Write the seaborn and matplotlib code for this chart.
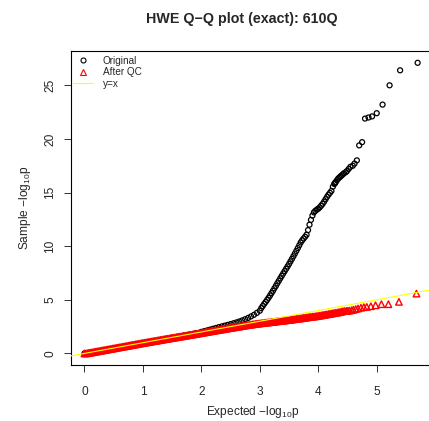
import matplotlib
matplotlib.use("Agg")
import matplotlib.pyplot as plt
import seaborn as sns
import pandas as pd
from matplotlib.lines import Line2D

# QQ data (expected vs sample -log10 p)
orig_expected = [0.0, 0.1, 0.2, 0.3, 0.4, 0.5, 0.6, 0.7, 0.8, 0.9, 1.0, 1.1, 1.2, 1.3, 1.4,
                 1.5, 1.6, 1.7, 1.8, 1.9, 2.0, 2.05, 2.10, 2.15, 2.20, 2.25, 2.30, 2.35, 2.40,
                 2.45, 2.50, 2.55, 2.60, 2.65, 2.70, 2.75, 2.80, 2.85, 2.90, 2.95, 3.00,
                 3.025, 3.050, 3.075, 3.100, 3.125, 3.150, 3.175, 3.200, 3.225, 3.250, 3.275,
                 3.300, 3.325, 3.350, 3.375, 3.400, 3.425, 3.450, 3.475, 3.500, 3.525, 3.550,
                 3.575, 3.600, 3.625, 3.650, 3.675, 3.700, 3.725, 3.750, 3.775, 3.800, 3.825,
                 3.850, 3.875, 3.900, 3.925, 3.950, 3.975, 4.000, 4.025, 4.050, 4.075, 4.100,
                 4.125, 4.150, 4.175, 4.200, 4.225, 4.250, 4.275,
                 4.28, 4.29, 4.30, 4.32, 4.34, 4.36, 4.38, 4.40, 4.42, 4.44, 4.47, 4.49, 4.52,
                 4.55, 4.59, 4.62, 4.66, 4.70, 4.75, 4.80, 4.86, 4.92, 5.00, 5.10, 5.22, 5.40, 5.70]
orig_observed = [0.0, 0.08, 0.18, 0.28, 0.38, 0.48, 0.58, 0.68, 0.78, 0.88, 0.98, 1.08, 1.17, 1.27, 1.37,
                 1.47, 1.57, 1.67, 1.77, 1.88, 2.01, 2.08, 2.15, 2.22, 2.30, 2.37, 2.45, 2.52, 2.59,
                 2.66, 2.73, 2.81, 2.89, 2.98, 3.08, 3.19, 3.31, 3.45, 3.60, 3.78, 3.98,
                 4.22, 4.42, 4.62, 4.80, 4.99, 5.19, 5.40, 5.62, 5.84, 6.07, 6.30,
                 6.54, 6.77, 7.00, 7.23, 7.45, 7.67, 7.89, 8.11, 8.34, 8.58, 8.82,
                 9.06, 9.31, 9.56, 9.82, 10.08, 10.35, 10.55, 10.72, 10.88, 11.07, 11.50,
                 12.00, 12.45, 12.85, 13.15, 13.30, 13.40, 13.50, 13.62, 13.78, 13.95, 14.15,
                 14.38, 14.60, 14.80, 14.97, 15.15, 15.55, 15.80,
                 15.85, 15.9, 16.0, 16.15, 16.3, 16.4, 16.5, 16.6, 16.7, 16.8, 16.9, 17.0, 17.2,
                 17.4, 17.5, 17.7, 18.0, 19.4, 19.7, 21.9, 22.0, 22.1, 22.4, 23.2, 25.0, 26.4, 27.1]

qc_expected = [
    0.000, 0.025, 0.050, 0.075, 0.100, 0.125, 0.150, 0.175, 0.200, 0.225, 0.250, 0.275,
    0.300, 0.325, 0.350, 0.375, 0.400, 0.425, 0.450, 0.475, 0.500, 0.525, 0.550, 0.575,
    0.600, 0.625, 0.650, 0.675, 0.700, 0.725, 0.750, 0.775, 0.800, 0.825, 0.850, 0.875,
    0.900, 0.925, 0.950, 0.975, 1.000, 1.025, 1.050, 1.075, 1.100, 1.125, 1.150, 1.175,
    1.200, 1.225, 1.250, 1.275, 1.300, 1.325, 1.350, 1.375, 1.400, 1.425, 1.450, 1.475,
    1.500, 1.525, 1.550, 1.575, 1.600, 1.625, 1.650, 1.675, 1.700, 1.725, 1.750, 1.775,
    1.800, 1.825, 1.850, 1.875, 1.900, 1.925, 1.950, 1.975, 2.000, 2.025, 2.050, 2.075,
    2.100, 2.125, 2.150, 2.175, 2.200, 2.225, 2.250, 2.275, 2.300, 2.325, 2.350, 2.375,
    2.400, 2.425, 2.450, 2.475, 2.500, 2.525, 2.550, 2.575, 2.600, 2.625, 2.650, 2.675,
    2.700, 2.725, 2.750, 2.775, 2.800, 2.825, 2.850, 2.875, 2.900, 2.925, 2.950, 2.975,
    3.000, 3.025, 3.050, 3.075, 3.100, 3.125, 3.150, 3.175, 3.200, 3.225, 3.250, 3.275,
    3.300, 3.325, 3.350, 3.375, 3.400, 3.425, 3.450, 3.475, 3.500, 3.525, 3.550, 3.575,
    3.600, 3.625, 3.650, 3.675, 3.700, 3.725, 3.750, 3.775, 3.800, 3.825, 3.850, 3.875,
    3.900, 3.925, 3.950, 3.975, 4.000, 4.025, 4.050, 4.075, 4.100, 4.125, 4.150, 4.175,
    4.200, 4.225, 4.250, 4.275, 4.300, 4.325, 4.350, 4.375, 4.400,
    4.42, 4.45, 4.48, 4.50, 4.53, 4.57, 4.60, 4.64, 4.68, 4.73, 4.78, 4.83, 4.90,
    4.98, 5.08, 5.20, 5.38, 5.68]
qc_observed = [
    0.00, 0.00, 0.02, 0.045, 0.07, 0.095, 0.12, 0.145, 0.17, 0.195, 0.22, 0.245,
    0.27, 0.295, 0.32, 0.345, 0.37, 0.395, 0.42, 0.445, 0.47, 0.495, 0.52, 0.545,
    0.57, 0.595, 0.62, 0.645, 0.67, 0.695, 0.72, 0.745, 0.77, 0.795, 0.82, 0.845,
    0.87, 0.895, 0.92, 0.945, 0.97, 0.99, 1.02, 1.04, 1.06, 1.09, 1.11, 1.14,
    1.16, 1.18, 1.21, 1.23, 1.25, 1.28, 1.30, 1.33, 1.35, 1.37, 1.40, 1.42,
    1.44, 1.46, 1.49, 1.51, 1.53, 1.56, 1.58, 1.60, 1.63, 1.65, 1.67, 1.70,
    1.72, 1.74, 1.77, 1.79, 1.81, 1.84, 1.86, 1.88, 1.91, 1.93, 1.96, 1.98,
    2.00, 2.03, 2.05, 2.08, 2.10, 2.12, 2.15, 2.17, 2.19, 2.22, 2.24, 2.26,
    2.29, 2.31, 2.33, 2.36, 2.38, 2.40, 2.42, 2.45, 2.47, 2.49, 2.51, 2.54,
    2.56, 2.58, 2.60, 2.63, 2.65, 2.67, 2.69, 2.71, 2.73, 2.75, 2.77, 2.78,
    2.80, 2.82, 2.83, 2.85, 2.87, 2.88, 2.90, 2.91, 2.93, 2.95, 2.96, 2.98,
    3.00, 3.01, 3.03, 3.05, 3.06, 3.08, 3.09, 3.11, 3.12, 3.14, 3.16, 3.18,
    3.20, 3.22, 3.24, 3.26, 3.27, 3.29, 3.31, 3.33, 3.35, 3.37, 3.39, 3.41,
    3.43, 3.44, 3.46, 3.48, 3.50, 3.52, 3.55, 3.57, 3.60, 3.62, 3.64, 3.67,
    3.69, 3.72, 3.74, 3.77, 3.79, 3.81, 3.84, 3.86, 3.89,
    3.94, 3.95, 3.96, 3.97, 4.00, 4.03, 4.07, 4.13, 4.19, 4.26, 4.31, 4.34, 4.40,
    4.49, 4.59, 4.59, 4.81, 5.58]

ref_intercept = 0
ref_slope = 1

legend_labels = ["Original", "After QC", "y=x"]
x_ticks = [0, 1, 2, 3, 4, 5]
y_ticks = [0, 5, 10, 15, 20, 25]

sns.set_theme(style="white")
plt.rcParams["font.family"] = ["Liberation Sans", "DejaVu Sans"]
plt.rcParams["mathtext.fontset"] = "custom"
plt.rcParams["mathtext.rm"] = "Liberation Sans"
plt.rcParams["mathtext.it"] = "Liberation Sans:italic"

df_orig = pd.DataFrame({"expected": orig_expected, "observed": orig_observed})
df_qc = pd.DataFrame({"expected": qc_expected, "observed": qc_observed})

fig = plt.figure(figsize=(4.29, 4.21), dpi=100)
ax = fig.add_axes([71 / 429, (421 - 365) / 421, 363 / 429, 314 / 421])

sns.scatterplot(data=df_orig, x="expected", y="observed", ax=ax, marker="o",
                color="none", edgecolor="black", linewidth=0.9, s=13, zorder=2)
sns.scatterplot(data=df_qc, x="expected", y="observed", ax=ax, marker="^",
                color="none", edgecolor="red", linewidth=1.0, s=22, zorder=3)
ax.axline((0, ref_intercept), slope=ref_slope, color="yellow", lw=0.8, zorder=4)

ax.set_xlim(-0.23, 5.98)
ax.set_ylim(-1.08, 28.2)
ax.set_xticks(x_ticks)
ax.set_yticks(y_ticks)
ax.tick_params(axis="both", direction="out", length=5, width=0.7, color="#333333",
               labelsize=8.6, bottom=True, left=True)
ax.tick_params(axis="x", pad=10)
ax.tick_params(axis="y", pad=5.5)
for lab in ax.get_yticklabels():
    lab.set_rotation(90)
    lab.set_va("center")
for sp in ax.spines.values():
    sp.set_color("black")
    sp.set_linewidth(0.8)

ax.set_xlabel("Expected " + r"$\mathrm{-log_{10}p}$", fontsize=8.6, labelpad=4.8)
ax.set_ylabel("Sample " + r"$\mathrm{-log_{10}p}$", fontsize=8.6, labelpad=8.4)

handles = [
    Line2D([], [], marker="o", linestyle="none", markerfacecolor="none",
           markeredgecolor="black", markersize=3.6, markeredgewidth=0.8),
    Line2D([], [], marker="^", linestyle="none", markerfacecolor="none",
           markeredgecolor="red", markersize=4, markeredgewidth=0.8),
    Line2D([], [], color="yellow", lw=0.8),
]
ax.legend(handles, legend_labels, loc="upper left", bbox_to_anchor=(0.005, 0.985),
          frameon=False, fontsize=7.2, handlelength=2.0, handletextpad=1.0,
          labelspacing=0.15, borderaxespad=0, borderpad=0)

fig.text(242 / 429, 1 - 19 / 421, "HWE Q\u2212Q plot (exact): 610Q", ha="center",
         va="center", fontsize=10.3, fontweight="bold")

fig.savefig("out.png", dpi=100)
